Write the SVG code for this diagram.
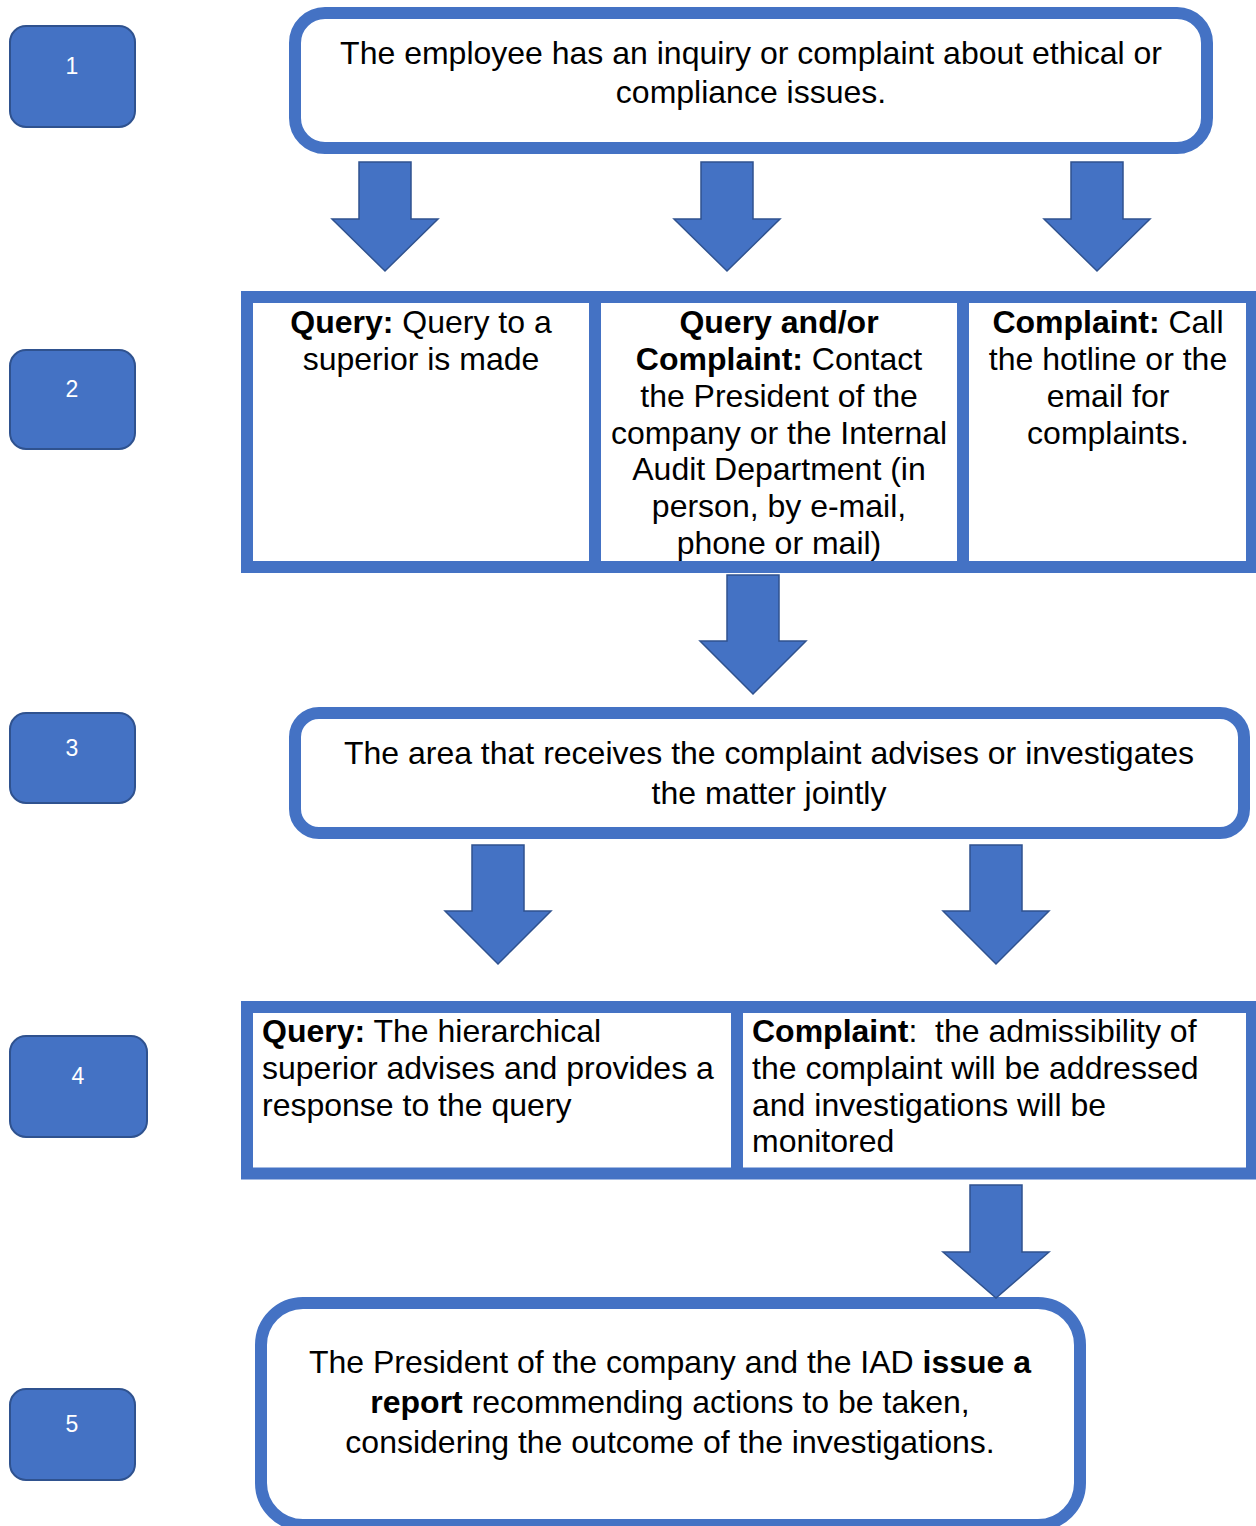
<svg xmlns="http://www.w3.org/2000/svg" width="1256" height="1526" viewBox="0 0 1256 1526">
<style>
.num{fill:#4472C4;stroke:#2F528F;stroke-width:2}
.numt{font-family:"Liberation Sans",Arial,sans-serif;font-size:23px;fill:#fff;text-anchor:middle}
.box{fill:#fff;stroke:#4472C4;stroke-width:12}
.div{stroke:#4472C4;stroke-width:12}
.t{font-family:"Liberation Sans",Arial,sans-serif;font-size:32px;fill:#000}
.c{text-anchor:middle}
.b{font-weight:bold}
.arr{fill:#4472C4;stroke:#2F528F;stroke-width:1.5}
</style>
<rect width="1256" height="1526" fill="#fff"/>
<g id="label1"><rect class="num" x="10" y="26" width="125" height="101" rx="16"/><text class="numt" x="72" y="74">1</text></g>
<g id="label2"><rect class="num" x="10" y="350" width="125" height="99" rx="16"/><text class="numt" x="72" y="397">2</text></g>
<g id="label3"><rect class="num" x="10" y="713" width="125" height="90" rx="16"/><text class="numt" x="72" y="756">3</text></g>
<g id="label4"><rect class="num" x="10" y="1036" width="137" height="101" rx="16"/><text class="numt" x="78" y="1084">4</text></g>
<g id="label5"><rect class="num" x="10" y="1389" width="125" height="91" rx="16"/><text class="numt" x="72" y="1432">5</text></g>

<g id="step1">
<rect class="box" x="295" y="13" width="912" height="135" rx="30"/>
<text class="t c" x="751" y="64">The employee has an inquiry or complaint about ethical or</text>
<text class="t c" x="751" y="103">compliance issues.</text>
</g>

<g id="step2">
<rect class="box" x="247" y="297" width="1005" height="270"/>
<line class="div" x1="595" y1="297" x2="595" y2="567"/>
<line class="div" x1="963" y1="297" x2="963" y2="567"/>
<text class="t c" x="421" y="333"><tspan class="b">Query:</tspan> Query to a</text>
<text class="t c" x="421" y="370">superior is made</text>
<text class="t c" x="779" y="333" font-weight="bold">Query and/or</text>
<text class="t c" x="779" y="370"><tspan class="b">Complaint:</tspan> Contact</text>
<text class="t c" x="779" y="407">the President of the</text>
<text class="t c" x="779" y="444">company or the Internal</text>
<text class="t c" x="779" y="480">Audit Department (in</text>
<text class="t c" x="779" y="517">person, by e-mail,</text>
<text class="t c" x="779" y="554">phone or mail)</text>
<text class="t c" x="1108" y="333"><tspan class="b">Complaint:</tspan> Call</text>
<text class="t c" x="1108" y="370">the hotline or the</text>
<text class="t c" x="1108" y="407">email for</text>
<text class="t c" x="1108" y="444">complaints.</text>
</g>

<g id="step3">
<rect class="box" x="295" y="713" width="949" height="120" rx="24"/>
<text class="t c" x="769" y="764">The area that receives the complaint advises or investigates</text>
<text class="t c" x="769" y="804">the matter jointly</text>
</g>

<g id="step4">
<rect class="box" x="247" y="1007" width="1005" height="166.5"/>
<line class="div" x1="737" y1="1007" x2="737" y2="1173.5"/>
<text class="t" x="262" y="1042"><tspan class="b">Query:</tspan> The hierarchical</text>
<text class="t" x="262" y="1079">superior advises and provides a</text>
<text class="t" x="262" y="1116">response to the query</text>
<text class="t" x="752" y="1042" xml:space="preserve"><tspan class="b">Complaint</tspan>:  the admissibility of</text>
<text class="t" x="752" y="1079">the complaint will be addressed</text>
<text class="t" x="752" y="1116">and investigations will be</text>
<text class="t" x="752" y="1152">monitored</text>
</g>

<g id="step5">
<rect class="box" x="261" y="1303" width="819" height="222" rx="42"/>
<text class="t c" x="670" y="1373">The President of the company and the IAD <tspan class="b">issue a</tspan></text>
<text class="t c" x="670" y="1413"><tspan class="b">report</tspan> recommending actions to be taken,</text>
<text class="t c" x="670" y="1453">considering the outcome of the investigations.</text>
</g>

<g id="connectors">
<polygon class="arr" points="359,162 411,162 411,219 438,219 385,271 332,219 359,219"/>
<polygon class="arr" points="701,162 753,162 753,219 780,219 727,271 674,219 701,219"/>
<polygon class="arr" points="1071,162 1123,162 1123,219 1150,219 1097,271 1044,219 1071,219"/>
<polygon class="arr" points="727,575 779,575 779,641 806,641 753,694 700,641 727,641"/>
<polygon class="arr" points="472,845 524,845 524,911 551,911 498,964 445,911 472,911"/>
<polygon class="arr" points="970,845 1022,845 1022,911 1049,911 996,964 943,911 970,911"/>
<polygon class="arr" points="970,1185 1022,1185 1022,1252 1049,1252 996,1298 943,1252 970,1252"/>
</g>
</svg>
